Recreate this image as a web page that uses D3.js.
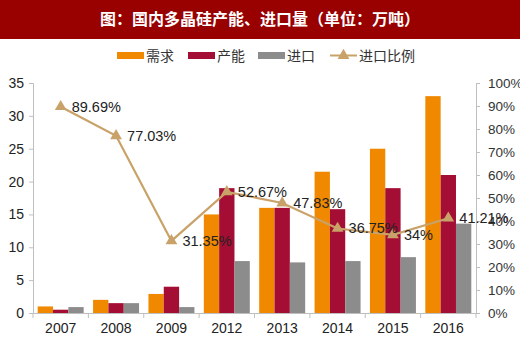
<!DOCTYPE html>
<html><head><meta charset="utf-8">
<script src="https://cdn.jsdelivr.net/npm/d3@7/dist/d3.min.js"></script>
<style>body{margin:0;background:#fff}svg{display:block}</style>
</head><body>
<script>
const categories = ["2007","2008","2009","2012","2013","2014","2015","2016"];
const demand   = [1.0, 2.0, 2.9, 15.0, 16.0, 21.5, 25.0, 33.0];
const capacity = [0.5, 1.5, 4.0, 19.0, 16.0, 15.8, 19.0, 21.0];
const imports  = [0.9, 1.5, 0.9, 7.9, 7.7, 7.9, 8.5, 13.6];
const importRatio = [89.69, 77.03, 31.35, 52.67, 47.83, 36.75, 34, 41.21];
const ratioLabels = ["89.69%","77.03%","31.35%","52.67%","47.83%","36.75%","34%","41.21%"];
const leftTicks = [0,5,10,15,20,25,30,35];
const rightTicks = [0,10,20,30,40,50,60,70,80,90,100];
const seriesNames = ["需求","产能","进口","进口比例"];
const title = "图：国内多晶硅产能、进口量（单位：万吨）";

const W=520,H=343;
const colors = ["#F08800","#A50E34","#8C8C8C"];
const lineColor = "#C9A269";
const axisColor = "#BFBFBF";
const svg = d3.select("body").append("svg").attr("width",W).attr("height",H);

// title bar
svg.append("rect").attr("x",0).attr("y",0).attr("width",W).attr("height",39).attr("fill","#990000");
svg.append("text").attr("x",260).attr("y",25).attr("text-anchor","middle")
  .attr("fill","#fff").attr("font-family","'Noto Sans CJK SC'").attr("font-weight","bold")
  .attr("font-size",16).text(title);

const x0 = d3.scaleBand().domain(categories).range([33,476]).paddingInner(0).paddingOuter(0);
const x1 = d3.scaleBand().domain([0,1,2]).range([4.7, x0.bandwidth()-4.7]);
const yL = d3.scaleLinear().domain([0,35]).range([313,83]);
const yR = d3.scaleLinear().domain([0,100]).range([313,83]);

const font = "'Liberation Sans', Arial, sans-serif";

// bars
const seriesVals = [demand, capacity, imports];
seriesVals.forEach((vals,si)=>{
  svg.append("g").selectAll("rect").data(vals).join("rect")
    .attr("x",(d,i)=>x0(categories[i])+x1(si))
    .attr("width",x1.bandwidth())
    .attr("y",d=>yL(d))
    .attr("height",d=>yL(0)-yL(d))
    .attr("fill",colors[si]);
});

// left axis
const gL = svg.append("g").attr("transform","translate(33,0)")
  .call(d3.axisLeft(yL).tickValues(leftTicks).tickSize(4).tickPadding(5));
// right axis
const gR = svg.append("g").attr("transform","translate(476,0)")
  .call(d3.axisRight(yR).tickValues(rightTicks).tickSize(4).tickPadding(8).tickFormat(d=>d+"%"));
// x axis
const gX = svg.append("g").attr("transform","translate(0,313)")
  .call(d3.axisBottom(x0).tickSize(0).tickPadding(10));
// x ticks at boundaries
svg.append("g").selectAll("line").data(categories.concat(["end"])).join("line")
  .attr("x1",(d,i)=>33+i*x0.bandwidth()).attr("x2",(d,i)=>33+i*x0.bandwidth())
  .attr("y1",313).attr("y2",318).attr("stroke",axisColor);

[gL,gR,gX].forEach(g=>{
  g.selectAll(".domain").attr("stroke",axisColor);
  g.selectAll(".tick line").attr("stroke",axisColor);
  g.selectAll("text").attr("font-family",font).attr("font-size",14).attr("fill","#222");
});
gR.selectAll("text").attr("font-size",13.5).attr("fill","#333");

// line
const cx = i=>x0(categories[i])+x0.bandwidth()/2;
svg.append("path").datum(importRatio)
  .attr("d",d3.line().x((d,i)=>cx(i)).y(d=>yR(d)))
  .attr("fill","none").attr("stroke",lineColor).attr("stroke-width",2.2);
const tri = d3.symbol().type(d3.symbolTriangle).size(60);
svg.append("g").selectAll("path").data(importRatio).join("path")
  .attr("d",tri).attr("transform",(d,i)=>`translate(${cx(i)},${yR(d)})`)
  .attr("fill",lineColor);
svg.append("g").selectAll("text").data(importRatio).join("text")
  .attr("x",(d,i)=>cx(i)+11).attr("y",d=>yR(d)+5)
  .attr("font-family",font).attr("font-size",14.5).attr("fill","#222")
  .text((d,i)=>ratioLabels[i]);

// legend
const leg = svg.append("g");
const legX = [117,188,258];
[0,1,2].forEach(i=>{
  leg.append("rect").attr("x",legX[i]).attr("y",52).attr("width",27).attr("height",7).attr("fill",colors[i]);
  leg.append("text").attr("x",legX[i]+29).attr("y",61).attr("font-family","'Noto Sans CJK SC'")
    .attr("font-size",14).attr("fill","#333").text(seriesNames[i]);
});
leg.append("line").attr("x1",330).attr("x2",357).attr("y1",55.5).attr("y2",55.5)
  .attr("stroke",lineColor).attr("stroke-width",2);
leg.append("path").attr("d",tri).attr("transform","translate(343.5,55.5)").attr("fill",lineColor);
leg.append("text").attr("x",359).attr("y",61).attr("font-family","'Noto Sans CJK SC'")
  .attr("font-size",14).attr("fill","#333").text(seriesNames[3]);
</script>
</body></html>
